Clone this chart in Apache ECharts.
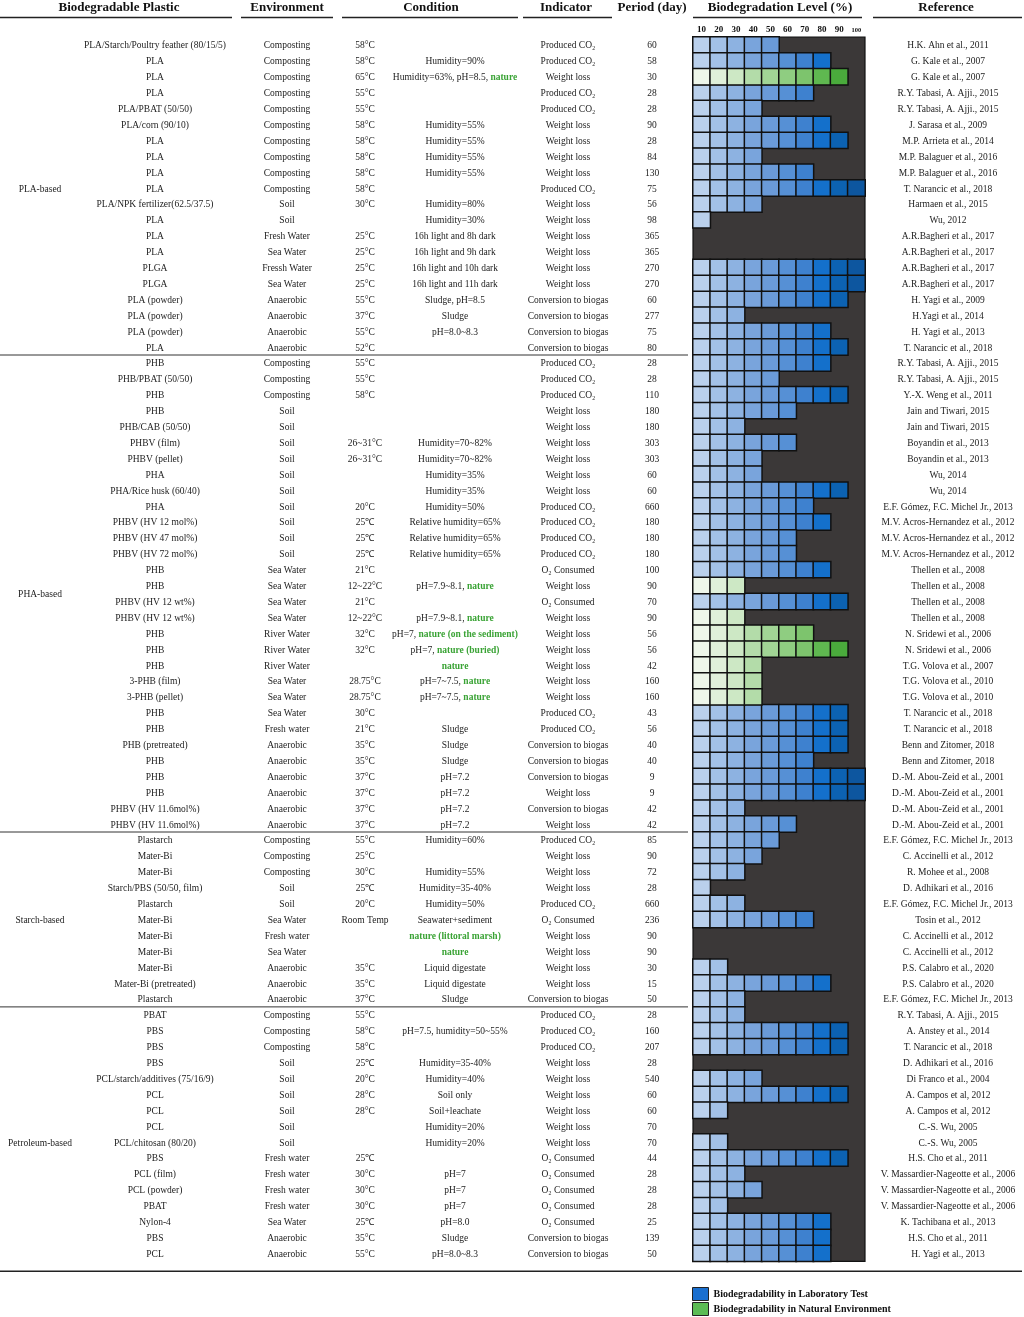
<!DOCTYPE html>
<html>
<head>
<meta charset="utf-8">
<title>Biodegradation Level</title>
<script src="https://cdn.jsdelivr.net/npm/echarts@6.0.0/dist/echarts.min.js"></script>
<style>
html,body{margin:0;padding:0;background:#fff;}
#main{width:1024px;height:1317px;}
</style>
</head>
<body>
<div id="main"></div>
<script>
// 表格每一行的文字列
var plastics = [
  'PLA/Starch/Poultry feather (80/15/5)','PLA','PLA','PLA','PLA/PBAT (50/50)','PLA/corn (90/10)','PLA','PLA','PLA','PLA',
  'PLA/NPK fertilizer(62.5/37.5)','PLA','PLA','PLA','PLGA','PLGA','PLA (powder)','PLA (powder)','PLA (powder)','PLA',
  'PHB','PHB/PBAT (50/50)','PHB','PHB','PHB/CAB (50/50)','PHBV (film)','PHBV (pellet)','PHA','PHA/Rice husk (60/40)','PHA',
  'PHBV (HV 12 mol%)','PHBV (HV 47 mol%)','PHBV (HV 72 mol%)','PHB','PHB','PHBV (HV 12 wt%)','PHBV (HV 12 wt%)','PHB','PHB','PHB',
  '3-PHB (film)','3-PHB (pellet)','PHB','PHB','PHB (pretreated)','PHB','PHB','PHB','PHBV (HV 11.6mol%)','PHBV (HV 11.6mol%)',
  'Plastarch','Mater-Bi','Mater-Bi','Starch/PBS (50/50, film)','Plastarch','Mater-Bi','Mater-Bi','Mater-Bi','Mater-Bi','Mater-Bi (pretreated)','Plastarch',
  'PBAT','PBS','PBS','PBS','PCL/starch/additives (75/16/9)','PCL','PCL','PCL','PCL/chitosan (80/20)','PBS','PCL (film)','PCL (powder)','PBAT','Nylon-4','PBS','PCL'
];
var environments = [
  'Composting','Composting','Composting','Composting','Composting','Composting','Composting','Composting','Composting','Composting',
  'Soil','Soil','Fresh Water','Sea Water','Fressh Water','Sea Water','Anaerobic','Anaerobic','Anaerobic','Anaerobic',
  'Composting','Composting','Composting','Soil','Soil','Soil','Soil','Soil','Soil','Soil',
  'Soil','Soil','Soil','Sea Water','Sea Water','Sea Water','Sea Water','River Water','River Water','River Water',
  'Sea Water','Sea Water','Sea Water','Fresh water','Anaerobic','Anaerobic','Anaerobic','Anaerobic','Anaerobic','Anaerobic',
  'Composting','Composting','Composting','Soil','Soil','Sea Water','Fresh water','Sea Water','Anaerobic','Anaerobic','Anaerobic',
  'Composting','Composting','Composting','Soil','Soil','Soil','Soil','Soil','Soil','Fresh water','Fresh water','Fresh water','Fresh water','Sea Water','Anaerobic','Anaerobic'
];
var temperatures = [
  '58°C','58°C','65°C','55°C','55°C','58°C','58°C','58°C','58°C','58°C',
  '30°C','','25°C','25°C','25°C','25°C','55°C','37°C','55°C','52°C',
  '55°C','55°C','58°C','','','26~31°C','26~31°C','','','20°C',
  '25℃','25℃','25℃','21°C','12~22°C','21°C','12~22°C','32°C','32°C','',
  '28.75°C','28.75°C','30°C','21°C','35°C','35°C','37°C','37°C','37°C','37°C',
  '55°C','25°C','30°C','25℃','20°C','Room Temp','','','35°C','35°C','37°C',
  '55°C','58°C','58°C','25℃','20°C','28°C','28°C','','','25℃','30°C','30°C','30°C','25℃','35°C','55°C'
];
var conditions = [
  '','Humidity=90%','Humidity=63%, pH=8.5, nature','','','Humidity=55%','Humidity=55%','Humidity=55%','Humidity=55%','',
  'Humidity=80%','Humidity=30%','16h light and 8h dark','16h light and 9h dark','16h light and 10h dark','16h light and 11h dark','Sludge, pH=8.5','Sludge','pH=8.0~8.3','',
  '','','','','','Humidity=70~82%','Humidity=70~82%','Humidity=35%','Humidity=35%','Humidity=50%',
  'Relative humidity=65%','Relative humidity=65%','Relative humidity=65%','','pH=7.9~8.1, nature','','pH=7.9~8.1, nature','pH=7, nature (on the sediment)','pH=7, nature (buried)','nature',
  'pH=7~7.5, nature','pH=7~7.5, nature','','Sludge','Sludge','Sludge','pH=7.2','pH=7.2','pH=7.2','pH=7.2',
  'Humidity=60%','','Humidity=55%','Humidity=35-40%','Humidity=50%','Seawater+sediment','nature (littoral marsh)','nature','Liquid digestate','Liquid digestate','Sludge',
  '','pH=7.5, humidity=50~55%','','Humidity=35-40%','Humidity=40%','Soil only','Soil+leachate','Humidity=20%','Humidity=20%','','pH=7','pH=7','pH=7','pH=8.0','Sludge','pH=8.0~8.3'
];
var indicators = [
  'Produced CO₂','Produced CO₂','Weight loss','Produced CO₂','Produced CO₂','Weight loss','Weight loss','Weight loss','Weight loss','Produced CO₂',
  'Weight loss','Weight loss','Weight loss','Weight loss','Weight loss','Weight loss','Conversion to biogas','Conversion to biogas','Conversion to biogas','Conversion to biogas',
  'Produced CO₂','Produced CO₂','Produced CO₂','Weight loss','Weight loss','Weight loss','Weight loss','Weight loss','Weight loss','Produced CO₂',
  'Produced CO₂','Produced CO₂','Produced CO₂','O₂ Consumed','Weight loss','O₂ Consumed','Weight loss','Weight loss','Weight loss','Weight loss',
  'Weight loss','Weight loss','Produced CO₂','Produced CO₂','Conversion to biogas','Conversion to biogas','Conversion to biogas','Weight loss','Conversion to biogas','Weight loss',
  'Produced CO₂','Weight loss','Weight loss','Weight loss','Produced CO₂','O₂ Consumed','Weight loss','Weight loss','Weight loss','Weight loss','Conversion to biogas',
  'Produced CO₂','Produced CO₂','Produced CO₂','Weight loss','Weight loss','Weight loss','Weight loss','Weight loss','Weight loss','O₂ Consumed','O₂ Consumed','O₂ Consumed','O₂ Consumed','O₂ Consumed','Conversion to biogas','Conversion to biogas'
];
var periods = [
  60,58,30,28,28,90,28,84,130,75,
  56,98,365,365,270,270,60,277,75,80,
  28,28,110,180,180,303,303,60,60,660,
  180,180,180,100,90,70,90,56,56,42,
  160,160,43,56,40,40,9,9,42,42,
  85,90,72,28,660,236,90,90,30,15,50,
  28,160,207,28,540,60,60,70,70,44,28,28,28,25,139,50
];
var references = [
  'H.K. Ahn et al., 2011','G. Kale et al., 2007','G. Kale et al., 2007','R.Y. Tabasi, A. Ajji., 2015','R.Y. Tabasi, A. Ajji., 2015','J. Sarasa et al., 2009','M.P. Arrieta et al., 2014','M.P. Balaguer et al., 2016','M.P. Balaguer et al., 2016','T. Narancic et al., 2018',
  'Harmaen et al., 2015','Wu, 2012','A.R.Bagheri et al., 2017','A.R.Bagheri et al., 2017','A.R.Bagheri et al., 2017','A.R.Bagheri et al., 2017','H. Yagi et al., 2009','H.Yagi et al., 2014','H. Yagi et al., 2013','T. Narancic et al., 2018',
  'R.Y. Tabasi, A. Ajji., 2015','R.Y. Tabasi, A. Ajji., 2015','Y.-X. Weng et al., 2011','Jain and Tiwari, 2015','Jain and Tiwari, 2015','Boyandin et al., 2013','Boyandin et al., 2013','Wu, 2014','Wu, 2014','E.F. Gómez, F.C. Michel Jr., 2013',
  'M.V. Acros-Hernandez et al., 2012','M.V. Acros-Hernandez et al., 2012','M.V. Acros-Hernandez et al., 2012','Thellen et al., 2008','Thellen et al., 2008','Thellen et al., 2008','Thellen et al., 2008','N. Sridewi et al., 2006','N. Sridewi et al., 2006','T.G. Volova et al., 2007',
  'T.G. Volova et al., 2010','T.G. Volova et al., 2010','T. Narancic et al., 2018','T. Narancic et al., 2018','Benn and Zitomer, 2018','Benn and Zitomer, 2018','D.-M. Abou-Zeid et al., 2001','D.-M. Abou-Zeid et al., 2001','D.-M. Abou-Zeid et al., 2001','D.-M. Abou-Zeid et al., 2001',
  'E.F. Gómez, F.C. Michel Jr., 2013','C. Accinelli et al., 2012','R. Mohee et al., 2008','D. Adhikari et al., 2016','E.F. Gómez, F.C. Michel Jr., 2013','Tosin et al., 2012','C. Accinelli et al., 2012','C. Accinelli et al., 2012','P.S. Calabro et al., 2020','P.S. Calabro et al., 2020','E.F. Gómez, F.C. Michel Jr., 2013',
  'R.Y. Tabasi, A. Ajji., 2015','A. Anstey et al., 2014','T. Narancic et al., 2018','D. Adhikari et al., 2016','Di Franco et al., 2004','A. Campos et al, 2012','A. Campos et al, 2012','C.-S. Wu, 2005','C.-S. Wu, 2005','H.S. Cho et al., 2011','V. Massardier-Nageotte et al., 2006','V. Massardier-Nageotte et al., 2006','V. Massardier-Nageotte et al., 2006','K. Tachibana et al., 2013','H.S. Cho et al., 2011','H. Yagi et al., 2013'
];
// 降解程度 (%)
var levels = [
  50,80,90,70,40,80,90,40,70,100,
  40,10,0,0,100,100,90,30,80,90,
  80,50,90,60,30,60,40,40,90,70,
  80,60,60,80,30,90,30,70,90,40,
  40,40,90,90,90,70,100,100,30,60,
  50,40,30,10,30,70,0,0,20,80,30,
  30,90,90,0,40,90,20,0,20,90,30,40,20,80,80,80
];
// 自然环境下测试的行 (绿色)
var natureRows = [2,34,36,37,38,39,40,41];
var groupNames = ['PLA-based','PHA-based','Starch-based','Petroleum-based'];
var groupSizes = [20,30,11,16];
var groupLabelRows = [9,34.5,55,69];
var levelTicks = ['10','20','30','40','50','60','70','80','90','100'];
var legendNames = ['Biodegradability in Laboratory Test','Biodegradability in Natural Environment'];

var blues = ['#bad0ec','#a3c1e7','#8db2e1','#79a4dc','#6a9ad8','#5690d5','#3e81cf','#1470cb','#0c62b2','#0d569f'];
var greens = ['#eef6ea','#e0f0da','#cde8c5','#b3dca9','#a1d595','#8fcd81','#7dc46d','#5fb850','#4aab3c','#3b9a30'];

var FONT = 'Liberation Serif';
var GRID_LEFT = 693, GRID_RIGHT = 865, GRID_TOP = 37, ROW_H = 15.9;
var rowCount = plastics.length;
var rowIds = plastics.map(function (p, i) { return String(i); });

// 热力格子
var labCells = [], natureCells = [];
for (var r = 0; r < rowCount; r++) {
  var n = Math.round(levels[r] / 10);
  var nat = natureRows.indexOf(r) >= 0;
  for (var c = 0; c < n; c++) {
    if (nat) natureCells.push([c, r, c + 11]);
    else labCells.push([c, r, c + 1]);
  }
}
var pieces = [];
blues.forEach(function (col, i) { pieces.push({ value: i + 1, color: col }); });
greens.forEach(function (col, i) { pieces.push({ value: i + 11, color: col }); });

function textAxis(position, center, formatter, rich) {
  var offset = position === 'left' ? GRID_LEFT - center : center - GRID_RIGHT;
  return {
    type: 'category', data: rowIds, inverse: true, position: position, offset: offset, gridIndex: 0,
    axisLine: { show: false }, axisTick: { show: false }, splitLine: { show: false },
    axisLabel: {
      interval: 0, margin: 0, align: 'center', fontFamily: FONT, fontSize: 9.5, color: '#222',
      padding: [2, 0, 0, 0],
      formatter: formatter, rich: rich || {}
    }
  };
}

function groupLabel(v, i) {
  for (var g = 0; g < groupNames.length; g++) {
    var row = groupLabelRows[g];
    if (Math.floor(row) === i) {
      return row % 1 ? '{h|' + groupNames[g] + '}' : groupNames[g];
    }
  }
  return '';
}

// 表头和分隔线
var graphics = [];
var headers = [
  ['Biodegradable Plastic', 119], ['Environment', 287], ['Condition', 431], ['Indicator', 566],
  ['Period (day)', 652], ['Biodegradation Level (%)', 780], ['Reference', 946]
];
headers.forEach(function (h) {
  graphics.push({ type: 'text', x: h[1], y: 8, style: { text: h[0], fill: '#111', font: 'bold 13px "Liberation Serif"', align: 'center', verticalAlign: 'middle' } });
});
[[0, 232], [241, 333], [342, 518], [523, 612], [693, 862], [873, 1022]].forEach(function (s) {
  graphics.push({ type: 'line', shape: { x1: s[0], y1: 17.5, x2: s[1], y2: 17.5 }, style: { stroke: '#222', lineWidth: 1.5 } });
});
var acc = 0;
for (var g = 0; g < groupSizes.length - 1; g++) {
  acc += groupSizes[g];
  var yy = GRID_TOP + acc * ROW_H;
  graphics.push({ type: 'line', shape: { x1: 0, y1: yy, x2: 688, y2: yy }, style: { stroke: '#333', lineWidth: 1 } });
}
var yb = GRID_TOP + rowCount * ROW_H + 10;
graphics.push({ type: 'line', shape: { x1: 0, y1: yb, x2: 1022, y2: yb }, style: { stroke: '#222', lineWidth: 1.5 } });

var myChart = echarts.init(document.getElementById('main'));
var option = {
  backgroundColor: '#fff',
  animation: false,
  grid: {
    left: GRID_LEFT, top: GRID_TOP, width: GRID_RIGHT - GRID_LEFT, height: rowCount * ROW_H,
    show: true, backgroundColor: '#3b3838', borderColor: '#111', borderWidth: 1.2
  },
  xAxis: {
    type: 'category', data: levelTicks, position: 'top',
    axisLine: { show: false }, axisTick: { show: false }, splitLine: { show: false },
    axisLabel: {
      interval: 0, margin: 3, fontFamily: FONT, fontWeight: 'bold', fontSize: 9, color: '#111',
      formatter: function (v) { return v === '100' ? '{s|100}' : v; },
      rich: { s: { fontFamily: FONT, fontWeight: 'bold', fontSize: 6.5, color: '#111' } }
    }
  },
  yAxis: [
    textAxis('left', 155, function (v, i) { return plastics[i]; }),
    textAxis('left', 287, function (v, i) { return environments[i]; }),
    textAxis('left', 365, function (v, i) { return temperatures[i]; }),
    textAxis('left', 455, function (v, i) {
      return conditions[i].replace(/nature.*$/, function (m) { return '{g|' + m + '}'; });
    }, { g: { fontFamily: FONT, fontSize: 9.5, fontWeight: 'bold', color: '#3aa335' } }),
    textAxis('left', 568, function (v, i) { return indicators[i]; }),
    textAxis('left', 652, function (v, i) { return String(periods[i]); }),
    textAxis('left', 40, groupLabel, { h: { fontFamily: FONT, fontSize: 9.5, color: '#222', padding: [16, 0, 0, 0] } }),
    textAxis('right', 948, function (v, i) { return references[i]; })
  ],
  visualMap: {
    type: 'piecewise', show: false, dimension: 2, seriesIndex: [0, 1], pieces: pieces
  },
  legend: {
    orient: 'vertical', left: 692, top: 1287, padding: 0, itemWidth: 16, itemHeight: 13, itemGap: 1,
    icon: 'rect', selectedMode: false,
    textStyle: { fontFamily: FONT, fontWeight: 'bold', fontSize: 10, color: '#111', lineHeight: 13 },
    data: [
      { name: legendNames[0], itemStyle: { color: '#1a6fcf', borderColor: '#222', borderWidth: 1 } },
      { name: legendNames[1], itemStyle: { color: '#5cbc55', borderColor: '#222', borderWidth: 1 } }
    ]
  },
  graphic: graphics,
  series: [
    {
      name: legendNames[0], type: 'heatmap', data: labCells, yAxisIndex: 0,
      itemStyle: { borderColor: '#111', borderWidth: 1.5 }, emphasis: { disabled: true }
    },
    {
      name: legendNames[1], type: 'heatmap', data: natureCells, yAxisIndex: 0,
      itemStyle: { borderColor: '#111', borderWidth: 1.5 }, emphasis: { disabled: true }
    }
  ]
};
myChart.setOption(option);
</script>
</body>
</html>
